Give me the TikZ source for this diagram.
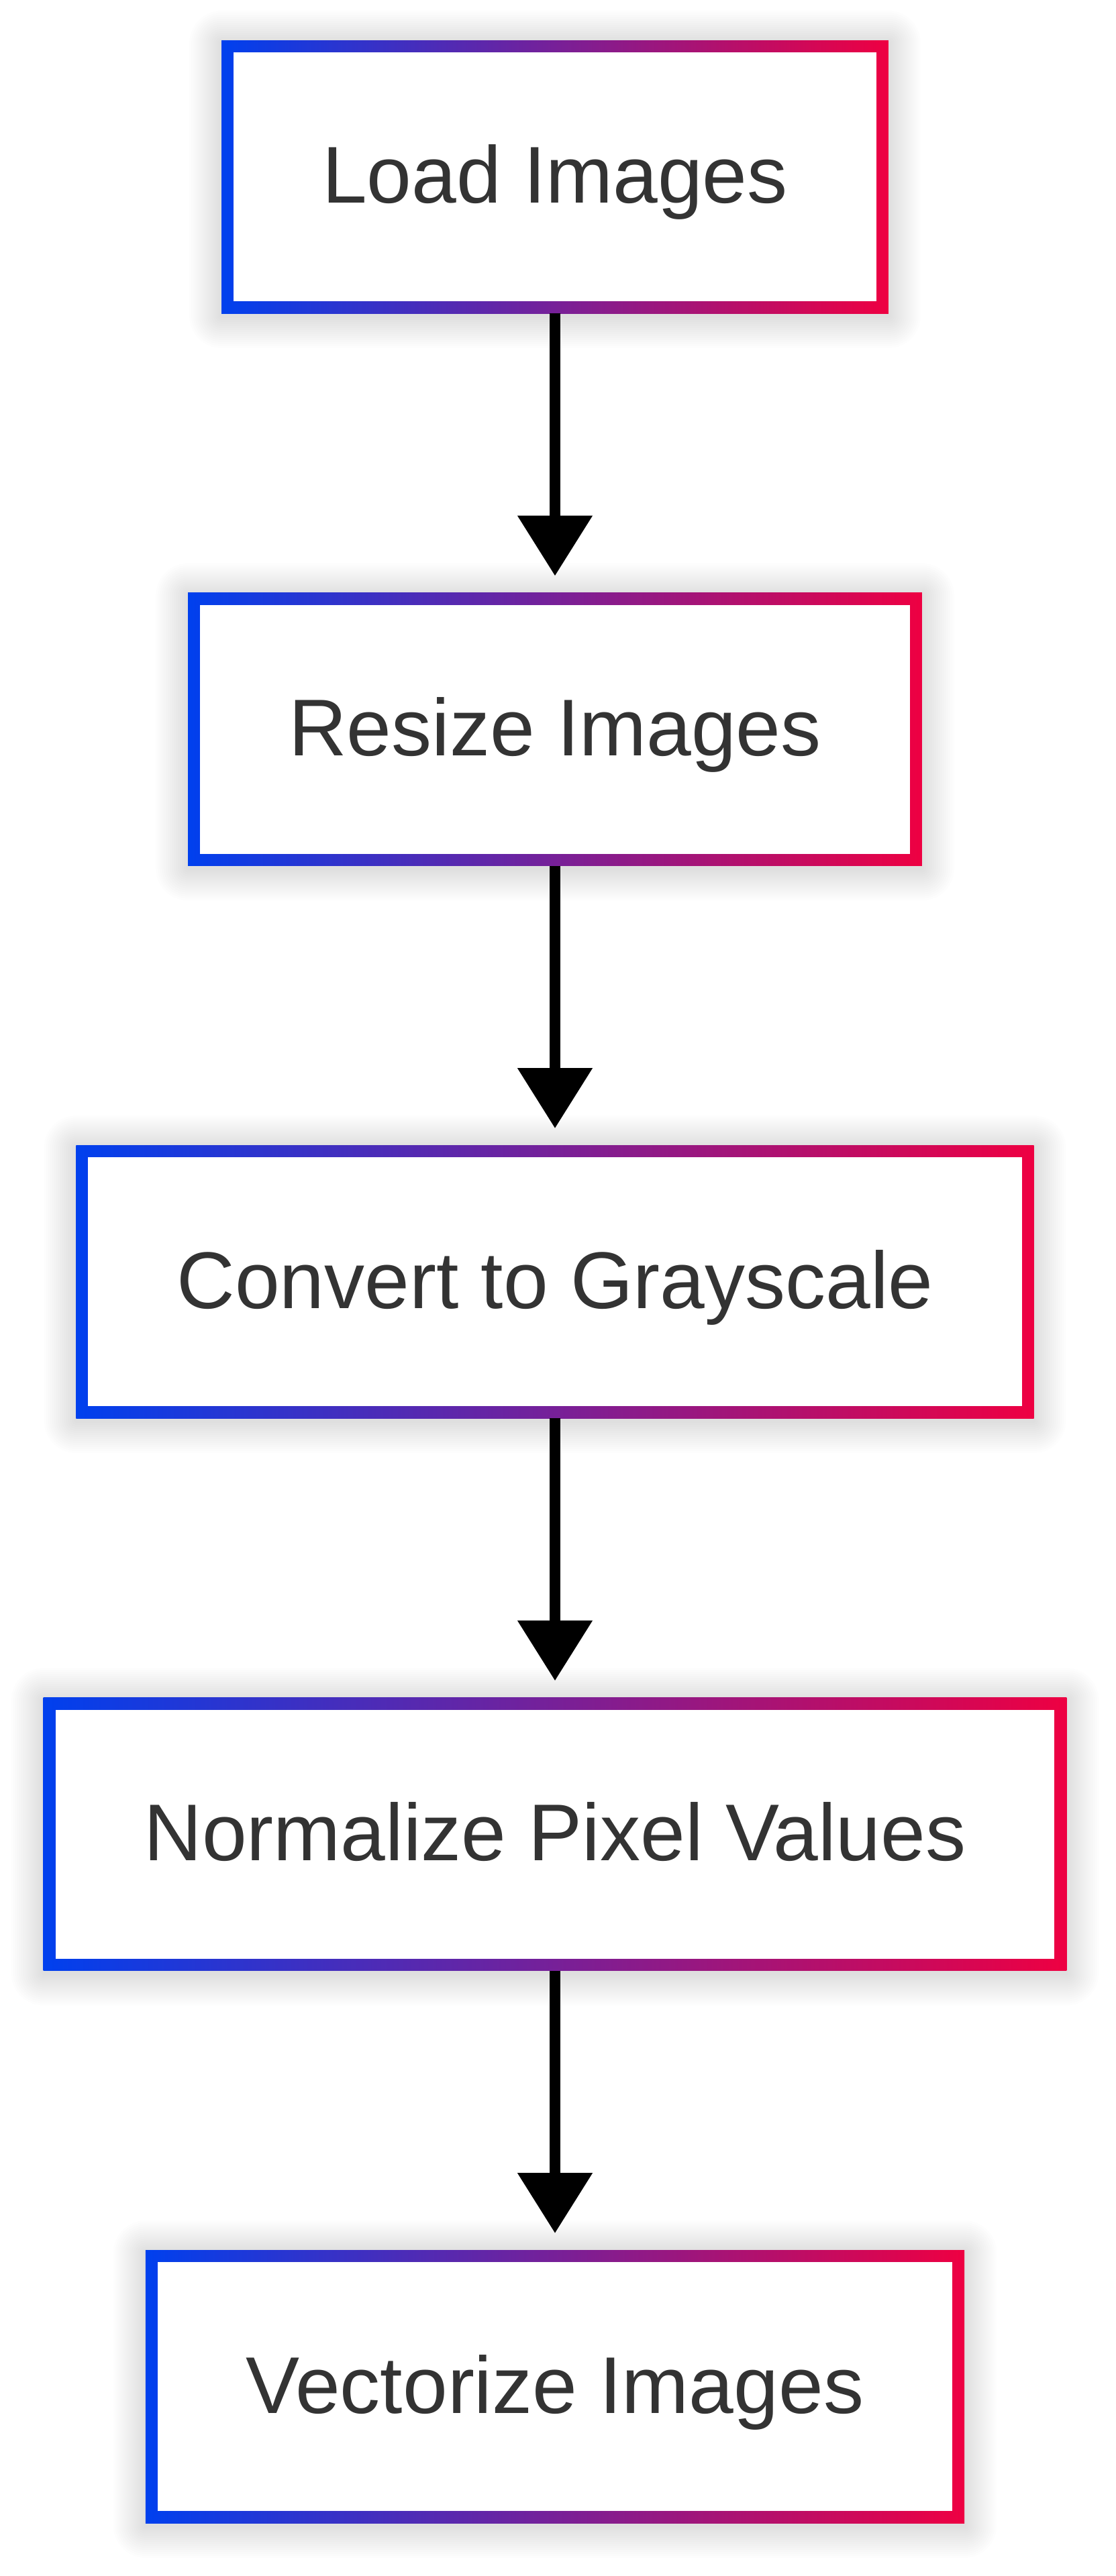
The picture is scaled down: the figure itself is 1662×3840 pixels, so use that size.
\documentclass[tikz,border=0pt]{standalone}
\usepackage{fontspec}
\setmainfont{Liberation Sans}
\usetikzlibrary{arrows.meta,backgrounds}
\definecolor{gblue}{RGB}{0,64,238}
\definecolor{gred}{RGB}{238,0,66}
\definecolor{txt}{HTML}{333333}
\begin{document}
\begin{tikzpicture}[x=0.5pt,y=-0.5pt,
  stepbox/.style={rectangle, minimum height=203.5pt, inner xsep=75pt, inner ysep=0pt,
    text depth=4pt, outer sep=0pt, text=txt, font=\fontsize{60}{72}\selectfont,
    path picture={
      \shade[left color=gblue,right color=gred]
        (path picture bounding box.south west) rectangle (path picture bounding box.north east);
      \fill[white]
        ([shift={(9pt,9pt)}]path picture bounding box.south west) rectangle
        ([shift={(-9pt,-9pt)}]path picture bounding box.north east);}},
  shadowlayer/.style={fill=black, fill opacity=0.009},
  flow/.style={-{Triangle[width=54pt,length=45pt]}, line width=8pt, black, shorten >=12.5pt}]
  \useasboundingbox (0,0) rectangle (1662,3840);

  \node[stepbox] (n1) at (827,263.5)  {Load Images};
  \node[stepbox] (n2) at (827,1087)   {Resize Images};
  \node[stepbox] (n3) at (827,1910.5) {Convert to Grayscale};
  \node[stepbox] (n4) at (827,2734)   {Normalize Pixel Values};
  \node[stepbox] (n5) at (827,3557.5) {Vectorize Images};

  \begin{scope}[on background layer]
    \fill[white] (0,0) rectangle (1662,3840);
    \foreach \n in {n1,n2,n3,n4,n5}{
      \foreach \i in {1,...,16}{
        \fill[shadowlayer, rounded corners=\i*1.5pt]
          ([shift={(-\i*1.5pt,-\i*1.5pt-2pt)}]\n.south west) rectangle
          ([shift={(\i*1.5pt,\i*1.5pt-2pt)}]\n.north east);
      }
    }
  \end{scope}

  \draw[flow] (n1.south) -- (n2.north);
  \draw[flow] (n2.south) -- (n3.north);
  \draw[flow] (n3.south) -- (n4.north);
  \draw[flow] (n4.south) -- (n5.north);
\end{tikzpicture}
\end{document}
